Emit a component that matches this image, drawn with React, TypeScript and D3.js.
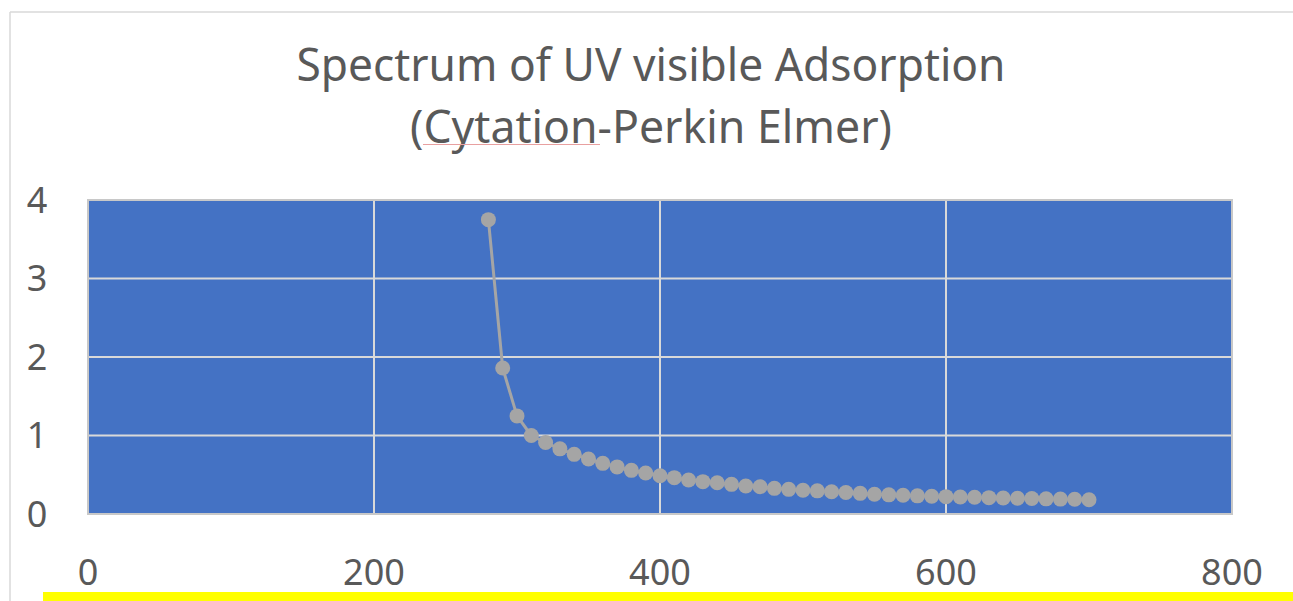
import React, { useEffect, useRef } from "react"
import * as d3 from "d3"

// wavelength (nm) and absorbance
const wavelengths = [
  280, 290, 300, 310, 320, 330, 340, 350, 360, 370, 380, 390, 400, 410, 420, 430, 440, 450, 460, 470,
  480, 490, 500, 510, 520, 530, 540, 550, 560, 570, 580, 590, 600, 610, 620, 630, 640, 650, 660, 670,
  680, 690, 700,
]
const absorbance = [
  3.75, 1.86, 1.25, 1.0, 0.91, 0.83, 0.76, 0.7, 0.645, 0.6, 0.556, 0.522, 0.488, 0.463, 0.433, 0.412,
  0.399, 0.378, 0.357, 0.348, 0.327, 0.314, 0.303, 0.295, 0.283, 0.274, 0.263, 0.252, 0.244, 0.238,
  0.231, 0.226, 0.221, 0.217, 0.213, 0.208, 0.204, 0.2, 0.197, 0.193, 0.19, 0.187, 0.182,
]
const xTicks = [0, 200, 400, 600, 800]
const yTicks = [0, 1, 2, 3, 4]
const titleLines = ["Spectrum of UV visible Adsorption", "(Cytation-Perkin Elmer)"]

const W = 1293
const H = 601
const plot = { left: 88, right: 1232, top: 200, bottom: 514 }

export default function App() {
  const ref = useRef<SVGSVGElement>(null)

  useEffect(() => {
    if (!ref.current) return
    const svg = d3.select(ref.current)
    svg.selectAll("*").remove()

    const x = d3.scaleLinear().domain([0, 800]).range([plot.left, plot.right])
    const y = d3.scaleLinear().domain([0, 4]).range([plot.bottom, plot.top])
    const font = "'Noto Sans', sans-serif"

    svg.append("rect").attr("width", W).attr("height", H).attr("fill", "#fff")

    // chart frame pieces
    svg.append("line").attr("x1", 10).attr("x2", W).attr("y1", 12).attr("y2", 12)
      .attr("stroke", "#d9d9d9").attr("stroke-width", 1.5)
    svg.append("line").attr("x1", 10).attr("x2", 10).attr("y1", 12).attr("y2", H)
      .attr("stroke", "#d9d9d9").attr("stroke-width", 1.5)
    svg.append("rect").attr("x", 43).attr("y", 592).attr("width", W - 43).attr("height", 9)
      .attr("fill", "#ffff00")

    // title
    svg.append("text").attr("x", 651).attr("y", 81).attr("text-anchor", "middle")
      .attr("font-family", font).attr("font-size", 46).attr("fill", "#595959")
      .attr("textLength", 709).attr("lengthAdjust", "spacingAndGlyphs")
      .text(titleLines[0])
    svg.append("text").attr("x", 651).attr("y", 143).attr("text-anchor", "middle")
      .attr("font-family", font).attr("font-size", 46).attr("fill", "#595959")
      .attr("textLength", 482).attr("lengthAdjust", "spacingAndGlyphs")
      .text(titleLines[1])
    svg.append("line").attr("x1", 423).attr("x2", 600).attr("y1", 144.5).attr("y2", 144.5)
      .attr("stroke", "#e8a0a0").attr("stroke-width", 1)

    // plot area
    svg.append("rect")
      .attr("x", plot.left).attr("y", plot.top)
      .attr("width", plot.right - plot.left).attr("height", plot.bottom - plot.top)
      .attr("fill", "#4472c4")

    const grid = svg.append("g").attr("stroke", "#d9d9d9").attr("stroke-width", 2)
    grid.selectAll(".gy").data(yTicks.slice(1, -1)).enter().append("line")
      .attr("x1", plot.left).attr("x2", plot.right)
      .attr("y1", (d) => y(d)).attr("y2", (d) => y(d))
    grid.selectAll(".gx").data(xTicks.slice(1, -1)).enter().append("line")
      .attr("y1", plot.top).attr("y2", plot.bottom)
      .attr("x1", (d) => x(d)).attr("x2", (d) => x(d))

    svg.append("rect")
      .attr("x", plot.left).attr("y", plot.top)
      .attr("width", plot.right - plot.left).attr("height", plot.bottom - plot.top)
      .attr("fill", "none").attr("stroke", "#c8c8c8").attr("stroke-width", 2)

    // axis labels
    svg.append("g").selectAll("text").data(yTicks).enter().append("text")
      .attr("x", 37).attr("y", (d) => y(d)).attr("dy", "0.36em").attr("text-anchor", "middle")
      .attr("font-family", font).attr("font-size", 36).attr("fill", "#595959")
      .text((d) => d)
    svg.append("g").selectAll("text").data(xTicks).enter().append("text")
      .attr("x", (d) => x(d)).attr("y", 572).attr("dy", "0.36em").attr("text-anchor", "middle")
      .attr("font-family", font).attr("font-size", 36).attr("fill", "#595959")
      .text((d) => d)

    // series
    const pts = wavelengths.map((w, i) => [w, absorbance[i]] as [number, number])
    const line = d3.line<[number, number]>().x((d) => x(d[0])).y((d) => y(d[1]))
    svg.append("path").datum(pts).attr("d", line)
      .attr("fill", "none").attr("stroke", "#a5a5a5").attr("stroke-width", 3)
      .attr("stroke-linejoin", "round")
    svg.append("g").selectAll("circle").data(pts).enter().append("circle")
      .attr("cx", (d) => x(d[0])).attr("cy", (d) => y(d[1])).attr("r", 7.5)
      .attr("fill", "#a5a5a5")
  }, [])

  return (
    <svg
      ref={ref}
      width={W}
      height={H}
      style={{ position: "absolute", left: 0, top: 0, display: "block" }}
    />
  )
}
